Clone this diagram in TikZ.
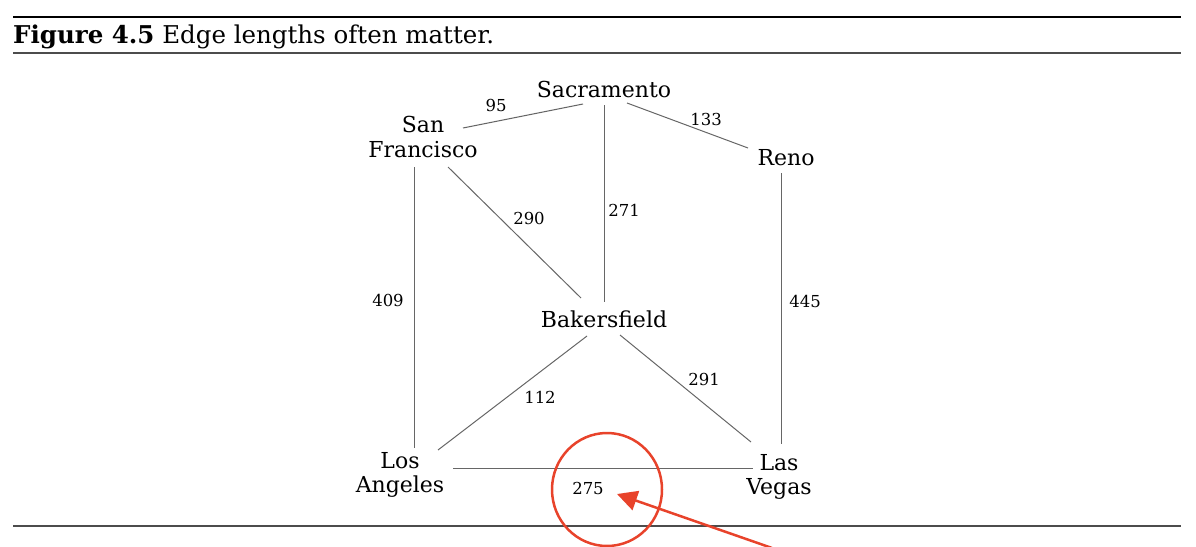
\documentclass[tikz,border=0pt]{standalone}
\usepackage{fontspec}
\setmainfont{DejaVu Serif}
\usetikzlibrary{arrows.meta}
\definecolor{edgegray}{gray}{0.4}
\definecolor{rulegray}{gray}{0.3}
\definecolor{annot}{HTML}{E8432B}
\tikzset{
  city/.style={inner sep=0pt, align=center, font=\fontsize{22}{24.5}\selectfont},
  wlabel/.style={inner sep=0pt, font=\fontsize{16.5}{18}\selectfont},
  road/.style={draw=edgegray, line width=1pt},
  caption/.style={inner sep=0pt, anchor=base west, font=\fontsize{24.5}{27}\selectfont},
  redmark/.style={draw=annot, line width=2.5pt},
}
\begin{document}
\begin{tikzpicture}[x=1pt, y=-1pt]
\useasboundingbox (0,0) rectangle (1196,546);
% rules and caption
\coordinate (r1l) at (13,17); \coordinate (r1r) at (1181,17);
\coordinate (r2l) at (13,53); \coordinate (r2r) at (1181,53);
\coordinate (r3l) at (13,526); \coordinate (r3r) at (1181,526);
\draw[line width=2pt, black] (r1l) -- (r1r);
\draw[line width=1.4pt, rulegray] (r2l) -- (r2r);
\draw[line width=1.8pt, rulegray] (r3l) -- (r3r);
\node[caption] (cap) at (13,43) {\textbf{Figure 4.5} Edge lengths often matter.};
% cities
\node[city] (Sac) at (604,89) {Sacramento};
\node[city] (SF) at (423,137) {San\\Francisco};
\node[city] (Reno) at (786,158) {Reno};
\node[city] (Bak) at (604,319) {Bakersfield};
\node[city] (LA) at (400,475) {Los\\Angeles};
\node[city] (LV) at (779,477) {Las\\Vegas};
% roads
\draw[road] ([xshift=40pt,yshift=9pt]SF.center) -- ([xshift=-21pt,yshift=-15pt]Sac.center);
\draw[road] ([xshift=23pt,yshift=-14pt]Sac.center) -- ([xshift=-38pt,yshift=10pt]Reno.center);
\draw[road] ([yshift=-16pt]Sac.center) -- ([yshift=17pt]Bak.center);
\draw[road] ([xshift=25pt,yshift=-30pt]SF.center) -- ([xshift=-23pt,yshift=21pt]Bak.center);
\draw[road] ([xshift=-9pt,yshift=-30pt]SF.center) -- ([xshift=14pt,yshift=27pt]LA.center);
\draw[road] ([xshift=-5pt,yshift=-15pt]Reno.center) -- ([xshift=2pt,yshift=33pt]LV.center);
\draw[road] ([xshift=-17pt,yshift=-17pt]Bak.center) -- ([xshift=38pt,yshift=25pt]LA.center);
\draw[road] ([xshift=16pt,yshift=-16pt]Bak.center) -- ([xshift=-28pt,yshift=35pt]LV.center);
\draw[road] ([xshift=53pt,yshift=7pt]LA.center) -- ([xshift=-26pt,yshift=9pt]LV.center);
% weights
\node[wlabel] (w95) at (496,105) {95};
\node[wlabel] (w133) at (706,119) {133};
\node[wlabel] (w271) at (624,210) {271};
\node[wlabel] (w290) at (529,218) {290};
\node[wlabel] (w409) at (388,300) {409};
\node[wlabel] (w445) at (805,301) {445};
\node[wlabel] (w112) at (540,397) {112};
\node[wlabel] (w291) at (704,379) {291};
\node[wlabel] (w275) at (588,488) {275};
% annotation
\draw[redmark] (607,489.5) ellipse [x radius=55, y radius=56.5];
\coordinate (arrstart) at (772,548);
\coordinate (arrtip) at (617,494);
\draw[redmark, -{Triangle[length=20pt,width=20pt]}] (arrstart) -- (arrtip);
\end{tikzpicture}
\end{document}
